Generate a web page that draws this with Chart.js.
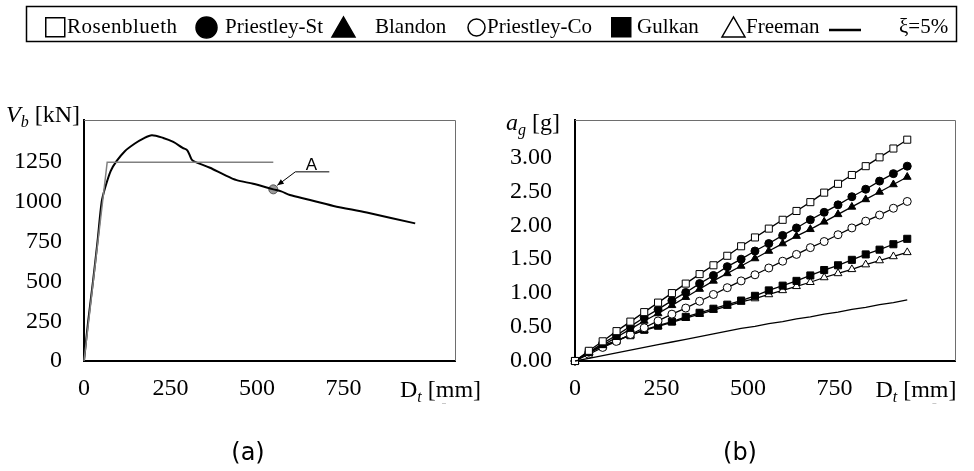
<!DOCTYPE html>
<html><head><meta charset="utf-8">
<script src="https://cdn.jsdelivr.net/npm/chart.js@4.4.1/dist/chart.umd.min.js"></script>
<style>
html,body{margin:0;padding:0;background:#fff}
body{width:974px;height:471px;position:relative;overflow:hidden}
#leg{position:absolute;left:0;top:0}
#ca{position:absolute;left:0;top:100px}
#cb{position:absolute;left:490px;top:100px}
</style></head><body>
<canvas id="leg" width="974" height="50"></canvas>
<canvas id="ca" width="490" height="370"></canvas>
<canvas id="cb" width="484" height="370"></canvas>
<script>
// ---------- data: chart (a) pushover curve ----------
const vbDisp  = [0, 12, 26, 39, 51, 61, 77, 94, 118, 147, 171, 196, 229, 258, 285, 299, 311, 321, 364, 403, 441, 489, 547, 570, 595, 644, 721, 817, 957];
const vbForce = [0, 250, 500, 750, 1000, 1089, 1194, 1256, 1319, 1367, 1398, 1419, 1402, 1377, 1340, 1323, 1267, 1252, 1215, 1173, 1137, 1114, 1079, 1066, 1044, 1017, 975, 933, 865];
const biDisp  = [0, 67, 547];
const biForce = [0, 1250, 1250];
const pointADisp  = [547];
const pointAForce = [1079];
const pointALabel = 'A';

// ---------- data: chart (b) ----------
const dt = [0, 40, 80, 120, 160, 200, 240, 280, 320, 360, 400, 440, 480, 520, 560, 600, 640, 680, 720, 760, 800, 840, 880, 920, 960];
const agRosenblueth = [0, 0.15, 0.29, 0.44, 0.58, 0.72, 0.86, 1.00, 1.14, 1.28, 1.41, 1.55, 1.69, 1.82, 1.95, 2.08, 2.21, 2.34, 2.48, 2.61, 2.74, 2.87, 3.00, 3.13, 3.26];
const agPriestleySt = [0, 0.13, 0.26, 0.38, 0.51, 0.64, 0.76, 0.89, 1.01, 1.14, 1.26, 1.39, 1.50, 1.62, 1.73, 1.85, 1.96, 2.08, 2.19, 2.30, 2.42, 2.53, 2.65, 2.76, 2.87];
const agBlandon     = [0, 0.12, 0.23, 0.35, 0.47, 0.59, 0.70, 0.82, 0.94, 1.06, 1.18, 1.29, 1.40, 1.51, 1.62, 1.73, 1.84, 1.94, 2.05, 2.16, 2.27, 2.38, 2.49, 2.60, 2.71];
const agPriestleyCo = [0, 0.10, 0.20, 0.29, 0.39, 0.49, 0.59, 0.69, 0.78, 0.88, 0.98, 1.08, 1.18, 1.27, 1.37, 1.47, 1.57, 1.67, 1.76, 1.86, 1.96, 2.06, 2.15, 2.25, 2.35];
const agGulkan      = [0, 0.13, 0.22, 0.30, 0.38, 0.46, 0.52, 0.58, 0.65, 0.71, 0.77, 0.83, 0.89, 0.96, 1.04, 1.11, 1.18, 1.26, 1.34, 1.41, 1.49, 1.57, 1.64, 1.72, 1.80];
const agFreeman     = [0, 0.13, 0.22, 0.30, 0.38, 0.45, 0.51, 0.57, 0.63, 0.69, 0.75, 0.81, 0.87, 0.92, 0.98, 1.04, 1.10, 1.16, 1.23, 1.29, 1.35, 1.42, 1.48, 1.54, 1.60];
const agXi5         = [0, 0.04, 0.08, 0.12, 0.16, 0.20, 0.24, 0.28, 0.32, 0.36, 0.40, 0.44, 0.48, 0.51, 0.55, 0.58, 0.62, 0.65, 0.69, 0.72, 0.76, 0.79, 0.83, 0.86, 0.90];
const seriesNames = ['Rosenblueth', 'Priestley-St', 'Blandon', 'Priestley-Co', 'Gulkan', 'Freeman', 'ξ=5%'];

// ---------- tick labels ----------
const xTickValues  = [0, 250, 500, 750];
const vbTickValues = [0, 250, 500, 750, 1000, 1250];
const agTickValues = [0, 0.5, 1.0, 1.5, 2.0, 2.5, 3.0];

// ---------- legend (canvas text) ----------
(function(){
  const c = document.getElementById('leg').getContext('2d');
  c.lineWidth = 1.5; c.strokeStyle = '#000';
  c.strokeRect(26.5, 6.5, 930, 35);
  const layout = [
    {shape: 'square',   fill: false, sx: 45,  tx: 67},
    {shape: 'circle',   fill: true,  sx: 196, tx: 225},
    {shape: 'triangle', fill: true,  sx: 332, tx: 375},
    {shape: 'circle',   fill: false, sx: 468, tx: 487},
    {shape: 'square',   fill: true,  sx: 611, tx: 637},
    {shape: 'triangle', fill: false, sx: 722, tx: 746},
    {shape: 'line',     fill: true,  sx: 829, tx: 899}
  ];
  layout.forEach((L, i) => {
    c.fillStyle = L.fill ? '#000' : '#fff';
    c.strokeStyle = '#000'; c.lineWidth = 1.5;
    c.beginPath();
    if (L.shape === 'square') c.rect(L.sx + 0.75, 17.75, 19, 19);
    else if (L.shape === 'circle') { const r = L.fill ? 10.5 : 8.5; c.arc(L.sx + r, 27.5, r, 0, Math.PI * 2); }
    else if (L.shape === 'triangle') { c.moveTo(L.sx, 37); c.lineTo(L.sx + 23, 37); c.lineTo(L.sx + 11.5, 17); c.closePath(); }
    if (L.shape === 'line') { c.lineWidth = 2.5; c.moveTo(L.sx, 30); c.lineTo(L.sx + 32, 30); c.stroke(); }
    else { c.fill(); c.stroke(); }
    c.fillStyle = '#000';
    c.font = "21px 'Liberation Serif'";
    c.letterSpacing = i === 0 ? '0.5px' : '0px';
    c.textBaseline = 'alphabetic'; c.textAlign = 'left';
    c.fillText(seriesNames[i], L.tx, 33);
  });
})();

// ---------- Chart.js ----------
Chart.defaults.font.family = "'Liberation Serif', serif";
Chart.defaults.color = '#000';
Chart.defaults.animation = false;

const xy = (xs, ys) => xs.map((x, i) => ({x: x, y: ys[i]}));

function drawRich(ctx, parts, x, y, align){
  let w = 0;
  parts.forEach(p => { ctx.font = p.f; w += ctx.measureText(p.t).width; });
  let cx = align === 'right' ? x - w : (align === 'center' ? x - w / 2 : x);
  ctx.textAlign = 'left'; ctx.textBaseline = 'alphabetic';
  parts.forEach(p => { ctx.font = p.f; ctx.fillText(p.t, cx, y + (p.dy || 0)); cx += ctx.measureText(p.t).width; });
}

const deco = {
  id: 'deco',
  afterDatasetsDraw(chart, args, o){
    const {ctx, chartArea: a, scales: {x}} = chart;
    ctx.save();
    ctx.strokeStyle = '#6e6e6e'; ctx.lineWidth = 1;
    ctx.beginPath();
    ctx.moveTo(a.left, a.top + 0.5); ctx.lineTo(a.right + 0.5, a.top + 0.5); ctx.lineTo(a.right + 0.5, a.bottom);
    ctx.stroke();
    ctx.fillStyle = '#000';
    drawRich(ctx, o.yTitle, a.left - o.yTitleDx, a.top + o.yTitleDy, 'right');
    const tx = x.getPixelForValue(o.xTitleAt);
    drawRich(ctx, o.xTitle, tx, a.bottom + 36, 'left');
    ctx.strokeStyle = '#c8c8c8'; ctx.lineWidth = 1;
    ctx.beginPath(); ctx.moveTo(tx + o.dashDx, a.bottom + 42.5); ctx.lineTo(tx + o.dashDx + 4, a.bottom + 42.5); ctx.stroke();
    drawRich(ctx, [{t: o.caption, f: "24px 'DejaVu Sans'"}], o.captionX, a.bottom + 99, 'center');
    if (o.leader) {
      const meta = chart.getDatasetMeta(o.leader.dataset);
      const p = meta.data[0];
      const x0 = p.x + 4, y0 = p.y - 4, x1 = p.x + 22, y1 = p.y - 17.5, x2 = p.x + 56;
      ctx.strokeStyle = '#000'; ctx.lineWidth = 1;
      ctx.beginPath(); ctx.moveTo(x0, y0); ctx.lineTo(x1, y1); ctx.lineTo(x2, y1); ctx.stroke();
      const ang = Math.atan2(y0 - y1, x0 - x1);
      ctx.beginPath();
      ctx.moveTo(x0, y0);
      ctx.lineTo(x0 - 7 * Math.cos(ang - 0.4), y0 - 7 * Math.sin(ang - 0.4));
      ctx.lineTo(x0 - 7 * Math.cos(ang + 0.4), y0 - 7 * Math.sin(ang + 0.4));
      ctx.closePath(); ctx.fill();
      ctx.font = "17px 'Liberation Sans'"; ctx.textAlign = 'center'; ctx.textBaseline = 'alphabetic';
      ctx.fillText(o.leader.text, p.x + 38, y1 - 1.5);
    }
    ctx.restore();
  }
};

function axes(xMax, yMax, yTicks, yFmt, yWidth, yPad){
  return {
    x: {
      type: 'linear', min: 0, max: xMax,
      afterBuildTicks: s => { s.ticks = xTickValues.map(v => ({value: v})); },
      afterFit: s => { s.height = 109; s.paddingLeft = 0; s.paddingRight = 0; },
      grid: {display: false, drawTicks: false},
      border: {display: true, color: '#000', width: 2},
      ticks: {padding: 13, font: {size: 24}, color: '#000', maxRotation: 0, autoSkip: false, callback: v => String(v)}
    },
    y: {
      type: 'linear', min: 0, max: yMax,
      afterBuildTicks: s => { s.ticks = yTicks.map(v => ({value: v})); },
      afterFit: s => { s.width = yWidth; s.paddingTop = 0; s.paddingBottom = 0; },
      grid: {display: false, drawTicks: false},
      border: {display: true, color: '#000', width: 2},
      ticks: {padding: yPad, font: {size: 24}, color: '#000', autoSkip: false, callback: yFmt}
    }
  };
}

const italic = "italic 24px 'Liberation Serif'", roman = "24px 'Liberation Serif'", sub = "italic 16px 'Liberation Serif'";

new Chart(document.getElementById('ca'), {
  type: 'scatter',
  data: {
    datasets: [
      {data: xy(biDisp, biForce), showLine: true, borderColor: '#808080', borderWidth: 1.5, pointRadius: 0, clip: false},
      {data: xy(vbDisp, vbForce), showLine: true, borderColor: '#000', borderWidth: 2, pointRadius: 0, tension: 0.3, clip: false},
      {data: xy(pointADisp, pointAForce), pointRadius: 4.5, pointBackgroundColor: '#9a9a9a', pointBorderColor: '#555', pointBorderWidth: 1, clip: false}
    ]
  },
  options: {
    responsive: false, devicePixelRatio: 1,
    layout: {padding: {left: 0, top: 20, right: 35, bottom: 0}},
    scales: axes(1072, 1515, vbTickValues, v => String(v), 84, 22),
    plugins: {
      legend: {display: false}, tooltip: {enabled: false},
      deco: {
        yTitle: [{t: 'V', f: italic}, {t: 'b', f: sub, dy: 5}, {t: ' [kN]', f: roman}], yTitleDx: 4, yTitleDy: 2,
        xTitle: [{t: 'D', f: roman}, {t: 't', f: sub, dy: 5}, {t: ' [mm]', f: roman}], xTitleAt: 913, dashDx: 42,
        caption: '(a)', captionX: 248,
        leader: {dataset: 2, text: pointALabel}
      }
    }
  },
  plugins: [deco]
});

const styleB = [
  {pointStyle: 'rect',     radius: 5,   fill: '#fff'},
  {pointStyle: 'circle',   radius: 4,   fill: '#000'},
  {pointStyle: 'triangle', radius: 4.5, fill: '#000'},
  {pointStyle: 'circle',   radius: 4,   fill: '#fff'},
  {pointStyle: 'rect',     radius: 5,   fill: '#000'},
  {pointStyle: 'triangle', radius: 4.5, fill: '#fff'}
];
const agSeries = [agRosenblueth, agPriestleySt, agBlandon, agPriestleyCo, agGulkan, agFreeman];
const dsB = [{label: seriesNames[6], data: xy(dt, agXi5), showLine: true, borderColor: '#000', borderWidth: 1.3, pointRadius: 0, clip: false}];
agSeries.forEach((s, i) => dsB.push({
  label: seriesNames[i], data: xy(dt, s), showLine: true, borderColor: '#000', borderWidth: 1.3,
  pointStyle: styleB[i].pointStyle, pointRadius: styleB[i].radius, pointBackgroundColor: styleB[i].fill,
  pointBorderColor: '#000', pointBorderWidth: 1, clip: false
}));

new Chart(document.getElementById('cb'), {
  type: 'scatter',
  data: {datasets: dsB},
  options: {
    responsive: false, devicePixelRatio: 1,
    layout: {padding: {left: 0, top: 20, right: 19, bottom: 0}},
    scales: axes(1098, 3.55, agTickValues, v => Number(v).toFixed(2), 85, 23),
    plugins: {
      legend: {display: false}, tooltip: {enabled: false},
      deco: {
        yTitle: [{t: 'a', f: italic}, {t: 'g', f: sub, dy: 5}, {t: ' [g]', f: roman}], yTitleDx: 15, yTitleDy: 10,
        xTitle: [{t: 'D', f: roman}, {t: 't', f: sub, dy: 5}, {t: ' [mm]', f: roman}], xTitleAt: 868, dashDx: 57,
        caption: '(b)', captionX: 250
      }
    }
  },
  plugins: [deco]
});
</script>
</body></html>
